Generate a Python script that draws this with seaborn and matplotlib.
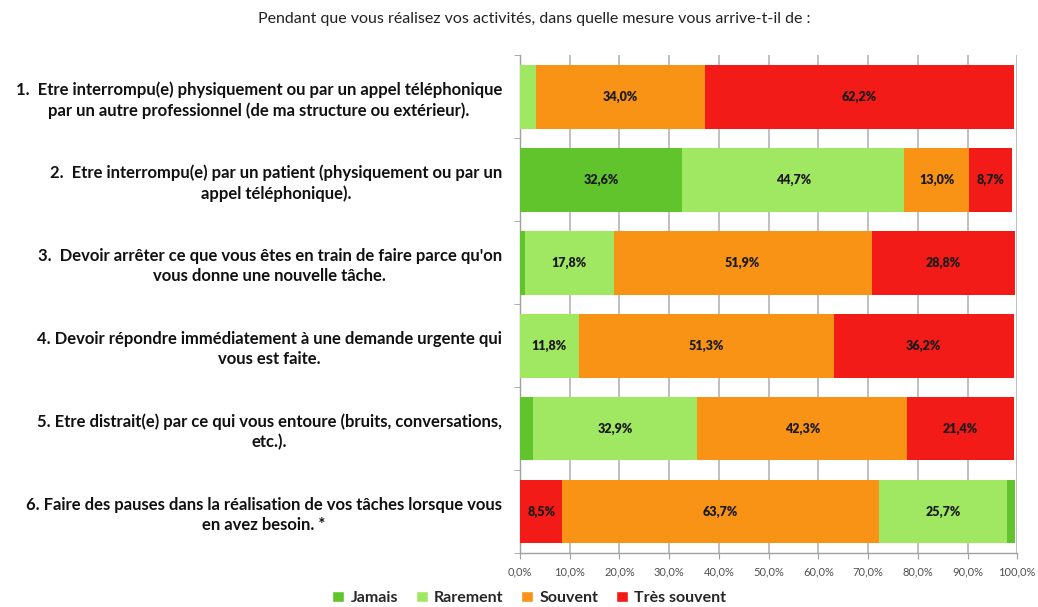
import numpy as np
import pandas as pd
import matplotlib
matplotlib.use("Agg")
import matplotlib.pyplot as plt
import seaborn as sns
from matplotlib.patches import Patch
from matplotlib.ticker import FuncFormatter

# data (percent)
questions = [
    "1.  Etre interrompu(e) physiquement ou par un appel téléphonique\npar un autre professionnel (de ma structure ou extérieur).",
    "2.  Etre interrompu(e) par un patient (physiquement ou par un\nappel téléphonique).",
    "3.  Devoir arrêter ce que vous êtes en train de faire parce qu'on\nvous donne une nouvelle tâche.",
    "4. Devoir répondre immédiatement à une demande urgente qui\nvous est faite.",
    "5. Etre distrait(e) par ce qui vous entoure (bruits, conversations,\netc.).",
    "6. Faire des pauses dans la réalisation de vos tâches lorsque vous\nen avez besoin. *",
]
categories = ["Jamais", "Rarement", "Souvent", "Très souvent"]
jamais = [0.0, 32.6, 1.0, 0.0, 2.7, 1.6]
rarement = [3.2, 44.7, 17.8, 11.8, 32.9, 25.7]
souvent = [34.0, 13.0, 51.9, 51.3, 42.3, 63.7]
tres_souvent = [62.2, 8.7, 28.8, 36.2, 21.4, 8.5]
# last question is stacked in reverse order
reversed_rows = [5]

colors = {"Jamais": "#62C42C", "Rarement": "#A1E862",
          "Souvent": "#F99315", "Très souvent": "#F21B18"}

title = "Pendant que vous réalisez vos activités, dans quelle mesure vous arrive-t-il de :"

sns.set_style("white")
plt.rcParams["font.family"] = ["Lato", "DejaVu Sans"]

# build segments with cumulative positions
rows = []
vals = {"Jamais": jamais, "Rarement": rarement, "Souvent": souvent, "Très souvent": tres_souvent}
for i, q in enumerate(questions):
    order = categories[::-1] if i in reversed_rows else categories
    start = 0.0
    for pos, c in enumerate(order):
        v = vals[c][i]
        rows.append({"question": q, "cat": c, "pos": pos, "value": v,
                     "start": start, "end": start + v})
        start += v
df = pd.DataFrame(rows)

fig = plt.figure(figsize=(10.38, 6.07), dpi=100)
ax = fig.add_axes([0.501, 0.089, 0.479, 0.820])

# draw stacked layers back to front
for pos in [3, 2, 1, 0]:
    layer = df[df["pos"] == pos]
    sns.barplot(data=layer, x="end", y="question", hue="cat", palette=colors,
                hue_order=categories, order=questions, dodge=False, width=0.77,
                saturation=1, legend=False, ax=ax, zorder=3, linewidth=0)

for _, r in df.iterrows():
    if r["value"] >= 8:
        yi = questions.index(r["question"])
        ax.text((r["start"] + r["end"]) / 2, yi, f"{r['value']:.1f}%".replace(".", ","),
                ha="center", va="center", fontsize=9, fontweight="heavy",
                color="#1a1a1a", zorder=5)

ax.set_xlim(0, 100)
ax.set_ylim(5.5, -0.5)
ax.set_xticks(np.arange(0, 101, 10))
ax.xaxis.set_major_formatter(FuncFormatter(lambda v, p: f"{v:.1f}%".replace(".", ",")))
ax.grid(axis="x", color="#b4b4b4", linewidth=1.2, zorder=0)
ax.set_axisbelow(True)
for s in ["top", "right"]:
    ax.spines[s].set_visible(False)
for s in ["left", "bottom"]:
    ax.spines[s].set_color("#a0a0a0")
    ax.spines[s].set_linewidth(1.0)
ax.tick_params(axis="x", labelsize=8, colors="#505050", length=4, direction="out",
               bottom=True, color="#a0a0a0", pad=6)
ax.tick_params(axis="y", length=0, pad=13)
ax.set_yticks(np.arange(-0.5, 6, 1), minor=True)
ax.tick_params(axis="y", which="minor", length=4, color="#a0a0a0", left=True)
ax.set_yticklabels(questions, fontsize=12, fontweight="bold", color="#111111",
                   multialignment="center", linespacing=1.3)
ax.set_xlabel("")
ax.set_ylabel("")

fig.text(0.515, 0.968, title, ha="center", va="center", fontsize=11.5, color="#222222")

handles = [Patch(facecolor=colors[c], label=c) for c in categories]
fig.legend(handles=handles, loc="center", bbox_to_anchor=(0.51, 0.015), ncol=4,
           frameon=False, handlelength=0.75, handleheight=0.75, handletextpad=0.4,
           columnspacing=1.1, prop={"weight": "bold", "size": 11.5})

fig.savefig("out.png", dpi=100)
